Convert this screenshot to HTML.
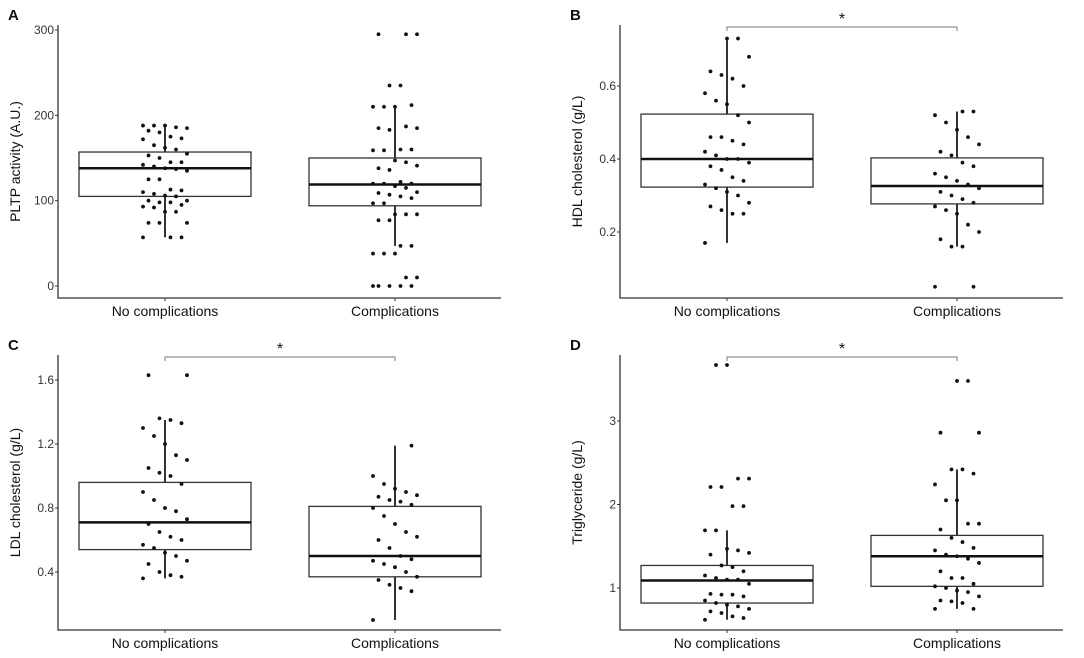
<!DOCTYPE html>
<html><head><meta charset="utf-8"><style>
body{margin:0;background:#fff}
svg text{font-family:"Liberation Sans",sans-serif}
</style></head><body>
<svg id="chart" width="1084" height="653" xmlns="http://www.w3.org/2000/svg"></svg>
<script>
// Panel data
const categories = ["No complications","Complications"];
const aNo = [57,57,57,74,74,74,87,87,92,93,95,98,98,100,100,105,106,108,110,112,113,125,125,135,137,138,140,142,145,145,150,153,155,160,162,165,172,173,175,180,182,185,186,188,188,188];
const aComp = [0,0,0,0,0,10,10,38,38,38,47,47,77,77,84,84,84,97,97,103,105,107,109,110,115,117,120,120,120,122,136,138,141,145,147,159,159,160,160,183,185,185,187,210,210,210,212,235,235,295,295,295];
const bNo = [0.17,0.25,0.25,0.26,0.27,0.28,0.3,0.31,0.32,0.33,0.34,0.35,0.37,0.38,0.39,0.40,0.40,0.41,0.42,0.44,0.45,0.46,0.46,0.5,0.52,0.55,0.56,0.58,0.6,0.62,0.63,0.64,0.68,0.73,0.73];
const bComp = [0.05,0.05,0.16,0.16,0.18,0.2,0.22,0.25,0.26,0.27,0.28,0.29,0.3,0.31,0.32,0.33,0.34,0.35,0.36,0.38,0.39,0.41,0.42,0.44,0.46,0.48,0.5,0.52,0.53,0.53];
const cNo = [0.36,0.37,0.38,0.40,0.45,0.47,0.5,0.52,0.55,0.57,0.6,0.62,0.65,0.7,0.73,0.78,0.8,0.85,0.9,0.95,1.0,1.02,1.05,1.1,1.13,1.2,1.25,1.3,1.33,1.35,1.36,1.63,1.63];
const cComp = [0.1,0.28,0.3,0.32,0.35,0.37,0.4,0.43,0.45,0.47,0.48,0.5,0.55,0.6,0.62,0.65,0.7,0.75,0.8,0.82,0.84,0.85,0.87,0.88,0.9,0.92,0.95,1.0,1.19];
const dNo = [0.62,0.64,0.66,0.7,0.72,0.75,0.78,0.8,0.82,0.85,0.9,0.92,0.92,0.93,1.05,1.1,1.1,1.12,1.15,1.2,1.25,1.27,1.4,1.42,1.45,1.47,1.69,1.69,1.98,1.98,2.21,2.21,2.31,2.31,3.67,3.67];
const dComp = [0.75,0.75,0.82,0.84,0.85,0.9,0.95,0.97,1.0,1.02,1.05,1.12,1.12,1.2,1.3,1.35,1.38,1.4,1.45,1.48,1.55,1.6,1.7,1.77,1.77,2.05,2.05,2.24,2.37,2.42,2.42,2.86,2.86,3.48,3.48];
// box stats [whiskerLow, q1, median, q3, whiskerHigh]
const aBoxNo = [57,105,138,157,186];
const aBoxComp = [47,94,119,150,210];
const bBoxNo = [0.17,0.323,0.40,0.523,0.73];
const bBoxComp = [0.16,0.277,0.326,0.403,0.53];
const cBoxNo = [0.36,0.54,0.71,0.96,1.35];
const cBoxComp = [0.10,0.37,0.50,0.81,1.19];
const dBoxNo = [0.62,0.82,1.09,1.27,1.69];
const dBoxComp = [0.75,1.02,1.38,1.63,2.42];
const aTicks = [0,100,200,300];
const bTicks = [0.2,0.4,0.6];
const cTicks = [0.4,0.8,1.2,1.6];
const dTicks = [1,2,3];

const NS="http://www.w3.org/2000/svg";
const svg=document.getElementById('chart');
function mk(tag,attrs,parent){const e=document.createElementNS(NS,tag);for(const k in attrs)e.setAttribute(k,attrs[k]);(parent||svg).appendChild(e);return e;}

function panel(o){
  const g=mk('g',{});
  
  
  const y=v=>o.y0px+(v-o.v0)*(o.y1px-o.y0px)/(o.v1-o.v0);
  const L=o.left, R=o.left+443, B=o.bottom, T=o.top;
  const cx=[L+107,L+337];
  const lt=mk('text',{x:L-50,y:T-5,'font-size':15,'font-weight':'bold',fill:'#111'},g);lt.textContent=o.letter;
  
  
  const ax=mk('path',{d:`M${L} ${T}V${B}H${R}`,stroke:'#333','stroke-width':1.3,fill:'none'},g);
  
  
  o.ticks.forEach(t=>{
    mk('line',{x1:L-3,x2:L,y1:y(t),y2:y(t),stroke:'#333'},g);
    const tx=mk('text',{x:L-4,y:y(t)+4,'font-size':12,'text-anchor':'end',fill:'#333'},g);tx.textContent=String(t);
    
    
  });
  const ttl=mk('text',{transform:`translate(${L-38},${(T+B)/2}) rotate(-90)`,'font-size':14,'text-anchor':'middle',fill:'#111'},g);ttl.textContent=o.title;
  
  
  categories.forEach((c,i)=>{
    mk('line',{x1:cx[i],x2:cx[i],y1:B,y2:B+3,stroke:'#333'},g);
    const tx=mk('text',{x:cx[i],y:B+18,'font-size':14,'text-anchor':'middle',fill:'#111'},g);tx.textContent=c;
    
    
    const s=o.boxes[i];
    const bx=mk('rect',{x:cx[i]-86,y:y(s[3]),width:172,height:y(s[1])-y(s[3]),fill:'#fff',stroke:'#333','stroke-width':1.3},g);
    
    
    mk('line',{x1:cx[i],x2:cx[i],y1:y(s[0]),y2:y(s[1]),stroke:'#333','stroke-width':2},g);
    mk('line',{x1:cx[i],x2:cx[i],y1:y(s[3]),y2:y(s[4]),stroke:'#333','stroke-width':2},g);
    const md=mk('line',{x1:cx[i]-86,x2:cx[i]+86,y1:y(s[2]),y2:y(s[2]),stroke:'#111','stroke-width':2.5},g);
    
    
    o.pts[i].forEach((v,j)=>{
      const jit=(((j*7)%9)-4)*5.5;
      const p=mk('circle',{cx:cx[i]+jit,cy:y(v),r:1.9,fill:'#111'},g);
      
      
    });
  });
  if(o.sig){
    const br=mk('path',{d:`M${cx[0]} ${T+6}V${T+2}H${cx[1]}V${T+6}`,stroke:'#777',fill:'none','stroke-width':1},g);
    
    
    const st=mk('text',{x:(cx[0]+cx[1])/2,y:T-1,'font-size':16,'text-anchor':'middle',fill:'#111'},g);st.textContent='*';
    
    
  }
}
panel({letter:'A',left:58,top:25,bottom:298,v0:0,v1:300,y0px:286,y1px:30,ticks:aTicks,title:'PLTP activity (A.U.)',boxes:[aBoxNo,aBoxComp],pts:[aNo,aComp],sig:false});
panel({letter:'B',left:620,top:25,bottom:298,v0:0.2,v1:0.6,y0px:232,y1px:86,ticks:bTicks,title:'HDL cholesterol (g/L)',boxes:[bBoxNo,bBoxComp],pts:[bNo,bComp],sig:true});
panel({letter:'C',left:58,top:355,bottom:630,v0:0.4,v1:1.6,y0px:572,y1px:380,ticks:cTicks,title:'LDL cholesterol (g/L)',boxes:[cBoxNo,cBoxComp],pts:[cNo,cComp],sig:true});
panel({letter:'D',left:620,top:355,bottom:630,v0:1,v1:3,y0px:588,y1px:421,ticks:dTicks,title:'Triglyceride (g/L)',boxes:[dBoxNo,dBoxComp],pts:[dNo,dComp],sig:true});
</script>
</body></html>
